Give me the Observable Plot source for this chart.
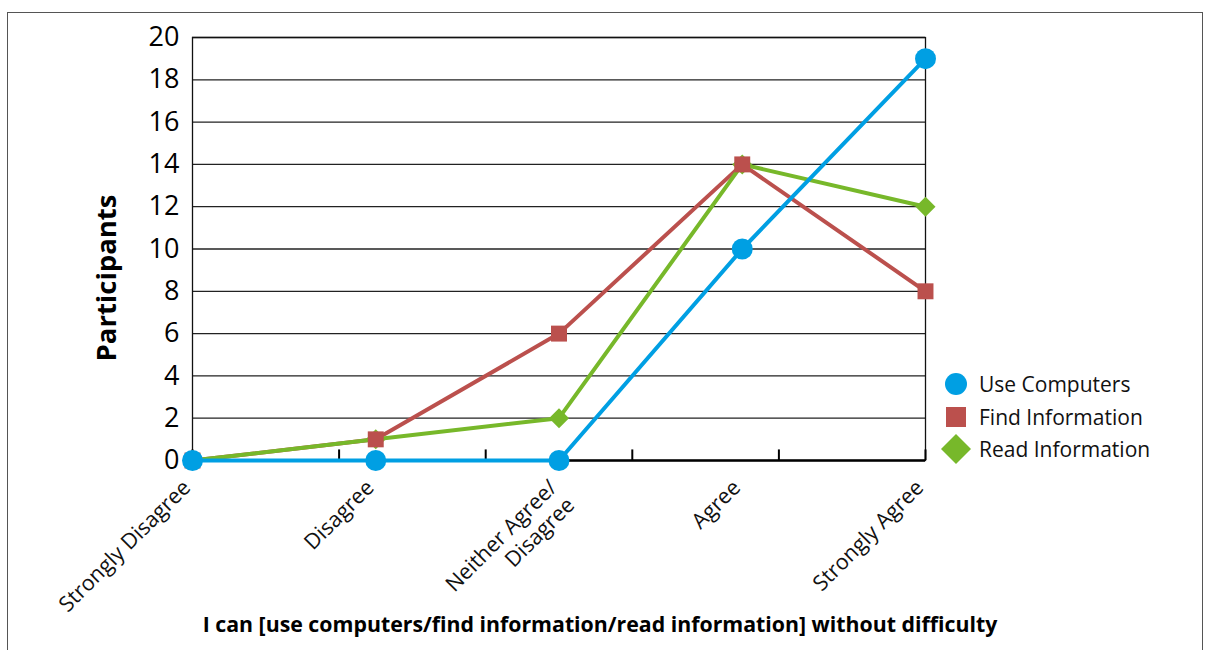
<!DOCTYPE html>
<html>
<head>
<meta charset="utf-8">
<script src="https://cdn.jsdelivr.net/npm/d3@7"></script>
<script src="https://cdn.jsdelivr.net/npm/@observablehq/plot@0.6"></script>
<style>
  html, body { margin: 0; padding: 0; background: #fff; }
  body { width: 1206px; height: 650px; position: relative; overflow: hidden; font-family: "Open Sans", sans-serif; }
  #frame { position: absolute; left: 7px; top: 12px; width: 1196px; height: 700px; border: 1.5px solid #555; box-sizing: border-box; }
  #chart { position: absolute; left: 0; top: 0; }
  #legend { position: absolute; left: 941px; top: 368px; font-size: 21px; color: #111; }
  #legend .row { display: flex; align-items: center; height: 32.5px; }
  #legend svg { width: 30px; height: 30px; margin-right: 8px; }
</style>
</head>
<body>
<div id="frame"></div>
<div id="chart"></div>
<div id="legend"></div>
<script>
const categories = ["Strongly Disagree", "Disagree", "Neither Agree/\nDisagree", "Agree", "Strongly Agree"];
const xValues = [0, 1.25, 2.5, 3.75, 5];
const xTicks = [0, 1, 2, 3, 4, 5];
const yTicks = [0, 2, 4, 6, 8, 10, 12, 14, 16, 18, 20];
const useComputers = [0, 0, 0, 10, 19];
const findInformation = [0, 1, 6, 14, 8];
const readInformation = [0, 1, 2, 14, 12];
const seriesNames = ["Use Computers", "Find Information", "Read Information"];
const seriesColors = ["#009FE3", "#BB504D", "#77B82A"];
const seriesSymbols = ["circle", "square", "diamond2"];

const toRows = (vals) => vals.map((v, i) => ({x: xValues[i], y: v, cat: categories[i]}));
const blue = toRows(useComputers);
const red = toRows(findInformation);
const green = toRows(readInformation);

const chart = Plot.plot({
  width: 1206,
  height: 650,
  marginLeft: 192,
  marginRight: 281,
  marginTop: 37,
  marginBottom: 190,
  style: {fontFamily: "Open Sans, sans-serif", background: "transparent", overflow: "visible"},
  x: {type: "linear", domain: [0, 5], axis: null},
  y: {domain: [0, 20], axis: null},
  marks: [
    Plot.ruleY(yTicks.filter(d => d > 0), {stroke: "#222", strokeWidth: 1.3}),
    Plot.frame({stroke: "#111", strokeWidth: 1.3}),
    Plot.ruleY([0], {stroke: "#000", strokeWidth: 2.5}),
    Plot.ruleX(xTicks, {y1: 0, y2: 0.5, stroke: "#000", strokeWidth: 2}),
    Plot.axisY(yTicks, {tickSize: 0, tickPadding: 13, fontSize: 27, fill: "#000", label: null}),
    Plot.line(red, {x: "x", y: "y", stroke: seriesColors[1], strokeWidth: 4}),
    Plot.line(green, {x: "x", y: "y", stroke: seriesColors[2], strokeWidth: 4}),
    Plot.line(blue, {x: "x", y: "y", stroke: seriesColors[0], strokeWidth: 4}),
    Plot.dot(green, {x: "x", y: "y", symbol: seriesSymbols[2], r: 9, fill: seriesColors[2]}),
    Plot.dot(red, {x: "x", y: "y", symbol: seriesSymbols[1], r: 9, fill: seriesColors[1]}),
    Plot.dot(blue, {x: "x", y: "y", symbol: seriesSymbols[0], r: 10.5, fill: seriesColors[0]}),
    Plot.text(blue, {x: "x", y: 0, text: "cat", rotate: -45, textAnchor: "end", lineAnchor: "top", dy: 16, dx: -13, fontSize: 21.5, fill: "#111", lineHeight: 1.15}),
    Plot.text(["Participants"], {frameAnchor: "left", textAnchor: "middle", dx: -85, dy: 29, rotate: -90, fontSize: 27.5, fontWeight: "bold", fill: "#000"}),
    Plot.text(["I can [use computers/find information/read information] without difficulty"], {frameAnchor: "bottom", lineAnchor: "middle", dx: 41, dy: 165, fontSize: 21.3, fontWeight: "bold", fill: "#000"})
  ]
});
document.getElementById("chart").appendChild(chart);

const legend = document.getElementById("legend");
const legendSizes = [11, 11.3, 13.5];
seriesNames.forEach((name, i) => {
  const row = document.createElement("div");
  row.className = "row";
  const s = d3.create("svg").attr("viewBox", "-15 -15 30 30");
  const sym = [d3.symbolCircle, d3.symbolSquare, d3.symbolDiamond2][i];
  s.append("path").attr("d", d3.symbol(sym, Math.PI * legendSizes[i] * legendSizes[i])()).attr("fill", seriesColors[i]);
  row.appendChild(s.node());
  const t = document.createElement("span");
  t.textContent = name;
  row.appendChild(t);
  legend.appendChild(row);
});
</script>
</body>
</html>
